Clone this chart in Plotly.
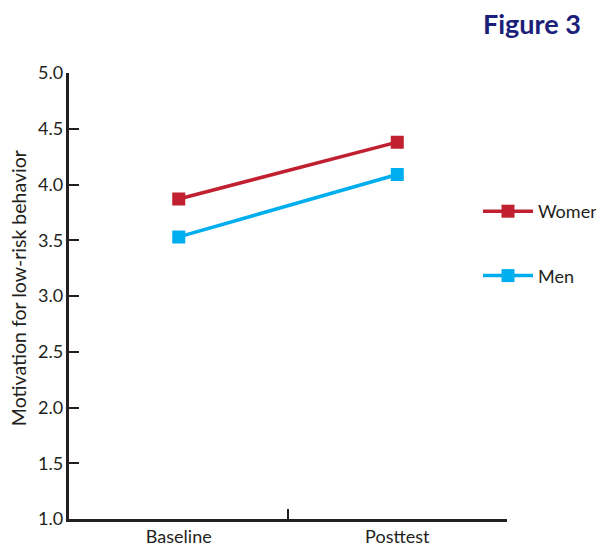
import plotly.graph_objects as go

categories = ["Baseline", "Posttest"]
women = [3.87, 4.38]
men = [3.53, 4.09]
yticks = [1.0, 1.5, 2.0, 2.5, 3.0, 3.5, 4.0, 4.5, 5.0]

FONT = "Lato"
TXT = "#231F20"

# The page body adds an 8px margin; the capture narrows x very slightly (measured).
OFF = 8
W, H = 604, 544 - OFF
K = 0.993
L, R, T, B = 2, 2, 2, 2
PW, PH = W - L - R, H - T - B


def px_x(sx):
    fx = sx / K - OFF
    return (fx - L) / PW


def px_y(sy):
    fy = sy - OFF
    return (H - B - fy) / PH


fig = go.Figure()
fig.add_trace(go.Scatter(x=categories, y=women, name="Women", mode="lines+markers",
                         legendgroup="w",
                         line=dict(color="#C0202F", width=3.5),
                         marker=dict(symbol="square", size=13, color="#C0202F")))
fig.add_trace(go.Scatter(x=categories, y=men, name="Men", mode="lines+markers",
                         legendgroup="m",
                         line=dict(color="#00AEEF", width=3.5),
                         marker=dict(symbol="square", size=13, color="#00AEEF")))

fig.update_layout(
    width=W, height=H,
    margin=dict(l=L, r=R, t=T, b=B),
    plot_bgcolor="white", paper_bgcolor="white",
    font=dict(family=FONT, size=18, color=TXT),
    showlegend=True,
    legend=dict(x=(470 - L) / PW, y=px_y(193), xanchor="left", yanchor="top",
                font=dict(size=18, color=TXT), tracegroupgap=38, itemwidth=50,
                bgcolor="rgba(0,0,0,0)"),
    annotations=[
        dict(text="<b>Figure 3</b>", x=px_x(579), y=px_y(24), xref="paper", yref="paper",
             xanchor="right", yanchor="middle", showarrow=False,
             font=dict(size=27, color="#1B1F7A", family=FONT)),
        dict(text="Motivation for low-risk behavior", x=px_x(19), y=px_y(288),
             xref="paper", yref="paper", xanchor="center", yanchor="middle",
             textangle=-90, showarrow=False, font=dict(size=19.5, color=TXT)),
    ],
)

fig.update_xaxes(type="category", range=[-0.5, 1.5], tickson="boundaries",
                 domain=[px_x(69), px_x(503)], automargin=False, anchor="y",
                 ticks="inside", ticklen=10, tickwidth=2, tickcolor="#231F20",
                 showline=True, linecolor="#231F20", linewidth=2.5,
                 showgrid=False, zeroline=False,
                 tickfont=dict(size=18, color=TXT))
fig.update_yaxes(range=[1, 5], tickvals=yticks, tickformat=".1f",
                 domain=[px_y(519), px_y(73)], automargin=False, anchor="x",
                 ticks="inside", ticklen=10, tickwidth=2, tickcolor="#231F20",
                 showline=True, linecolor="#231F20", linewidth=2.5,
                 showgrid=False, zeroline=False,
                 tickfont=dict(size=18, color=TXT))

fig.write_html("out.html", config={"displayModeBar": False})
